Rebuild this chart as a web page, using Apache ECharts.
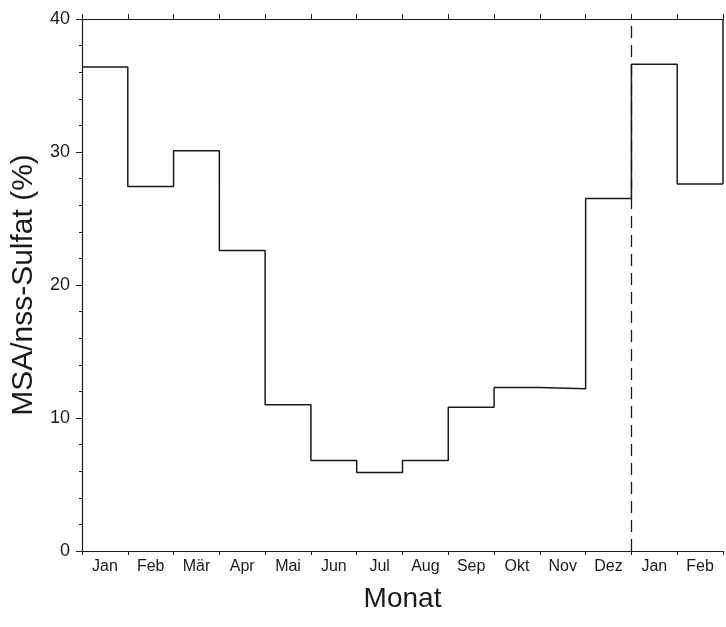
<!DOCTYPE html>
<html>
<head>
<meta charset="utf-8">
<script src="https://cdn.jsdelivr.net/npm/echarts@6/dist/echarts.min.js"></script>
<style>
  html, body { margin: 0; padding: 0; background: #fff; }
  #chart { width: 726px; height: 627px; }
</style>
</head>
<body>
<div id="chart"></div>
<script>
// Monate (Jan..Dez, dann Jan, Feb wiederholt)
const months = ["Jan", "Feb", "Mär", "Apr", "Mai", "Jun", "Jul", "Aug", "Sep", "Okt", "Nov", "Dez", "Jan", "Feb"];
// MSA/nss-Sulfat in %
const ratio = [36.4, 27.4, 30.1, 22.6, 11.0, 6.8, 5.9, 6.8, 10.8, 12.3, 12.2, 26.5, 36.6, 27.6];
const yTicks = [0, 10, 20, 30, 40];
const yearEnd = 12; // Grenze Dez/Jan

const font = "'Liberation Sans', Arial, sans-serif";
const ink = "#1a1a1a";

// Stufenlinie: jeder Monat von i bis i+1
const stepData = ratio.map((v, i) => [i, v]);
stepData.push([ratio.length, ratio[ratio.length - 1]]);

const chart = echarts.init(document.getElementById("chart"));
chart.setOption({
  animation: false,
  grid: { left: 82, top: 19, right: 3, bottom: 76 },
  xAxis: [
    {
      type: "category",
      data: months,
      position: "bottom",
      boundaryGap: true,
      name: "Monat",
      nameLocation: "middle",
      nameGap: 34,
      nameTextStyle: { fontFamily: font, fontSize: 28, color: ink },
      axisLine: { lineStyle: { color: ink, width: 1.2 } },
      axisTick: { show: true, length: 4, lineStyle: { color: ink } },
      axisLabel: { fontFamily: font, fontSize: 16, color: ink, margin: 8, interval: 0 },
      splitLine: { show: false },
    },
    {
      type: "category",
      data: months,
      position: "top",
      boundaryGap: true,
      axisLine: { lineStyle: { color: ink, width: 1.2 } },
      axisTick: { show: true, length: 5, lineStyle: { color: ink } },
      axisLabel: { show: false },
      splitLine: { show: false },
    },
    {
      type: "value",
      min: 0,
      max: months.length,
      show: false,
    },
  ],
  yAxis: {
    type: "value",
    min: yTicks[0],
    max: yTicks[yTicks.length - 1],
    interval: 10,
    name: "MSA/nss-Sulfat (%)",
    nameLocation: "middle",
    nameGap: 40,
    nameTextStyle: { fontFamily: font, fontSize: 30, color: ink },
    axisLine: { show: true, lineStyle: { color: ink, width: 1.2 } },
    axisTick: { show: true, length: 6, lineStyle: { color: ink } },
    minorTick: { show: true, splitNumber: 5, length: 3, lineStyle: { color: ink } },
    axisLabel: { fontFamily: font, fontSize: 18, color: ink, margin: 12 },
    splitLine: { show: false },
  },
  series: [
    {
      type: "line",
      xAxisIndex: 2,
      data: stepData,
      step: "end",
      symbol: "none",
      lineStyle: { color: ink, width: 1.5 },
      markLine: {
        silent: true,
        symbol: "none",
        label: { show: false },
        data: [
          { xAxis: yearEnd, lineStyle: { type: [12, 7], color: ink, width: 1.3 } },
          [
            { coord: [months.length, ratio[ratio.length - 1]], lineStyle: { type: "solid", color: ink, width: 1.5 } },
            { coord: [months.length, yTicks[yTicks.length - 1]] },
          ],
        ],
      },
    },
  ],
});
</script>
</body>
</html>
